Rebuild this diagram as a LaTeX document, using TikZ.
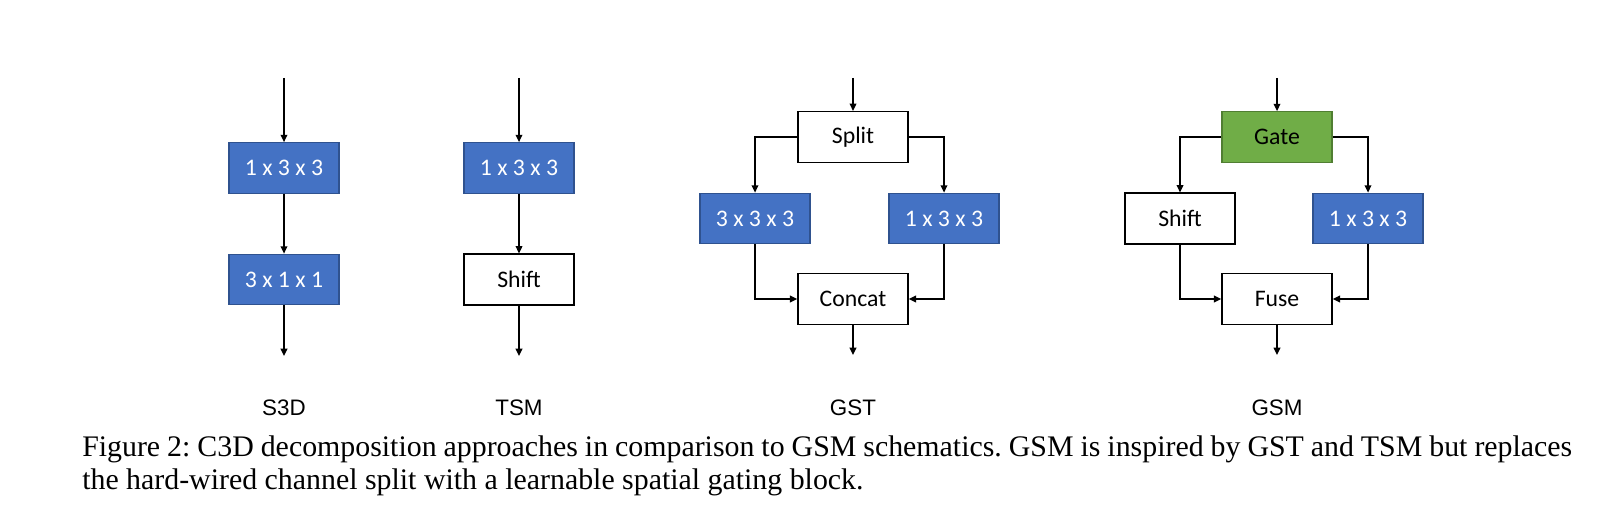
\documentclass[tikz,border=0pt]{standalone}
\usepackage{fontspec}
\setmainfont{Liberation Serif}
\newfontfamily\boxfont{Carlito}
\newfontfamily\labfont{Liberation Sans}
\usetikzlibrary{arrows.meta}
\definecolor{convblue}{HTML}{4472C4}
\definecolor{convborder}{HTML}{2F528F}
\definecolor{gategreen}{HTML}{70AD47}
\definecolor{gateborder}{HTML}{507E32}
\frenchspacing
\begin{document}
\begin{tikzpicture}[x=0.75pt,y=-0.75pt,
  blk/.style={draw, line width=1.1pt, minimum width=82.5pt, minimum height=38pt, inner sep=0pt,
    font=\boxfont\fontsize{17.8}{20}\selectfont},
  conv/.style={blk, fill=convblue, draw=convborder, line width=0.8pt, text=white},
  plain/.style={blk, fill=white, draw=black},
  gate/.style={blk, fill=gategreen, draw=gateborder, line width=0.8pt, text=black},
  flow/.style={line width=1.1pt, -{Triangle[length=5.5pt,width=5pt]}},
  lab/.style={font=\labfont\fontsize{16.8}{19}\selectfont},
  captext/.style={font=\fontsize{22.4}{26}\selectfont, inner sep=0pt, anchor=base west}]
\useasboundingbox (0,0) rectangle (1616,528);
% S3D
\coordinate (s3in) at (284,78);
\node[conv] (s3a) at (284,168) {1 x 3 x 3};
\node[conv] (s3b) at (284,279.5) {3 x 1 x 1};
\coordinate (s3out) at (284,356);
\draw[flow] (s3in) -- (s3a);
\draw[flow] (s3a) -- (s3b);
\draw[flow] (s3b) -- (s3out);
\node[lab] (s3l) at (284,408) {S3D};
% TSM
\coordinate (tsin) at (519,78);
\node[conv] (tsa) at (519,168) {1 x 3 x 3};
\node[plain] (tsb) at (519,279.5) {Shift};
\coordinate (tsout) at (519,356);
\draw[flow] (tsin) -- (tsa);
\draw[flow] (tsa) -- (tsb);
\draw[flow] (tsb) -- (tsout);
\node[lab] (tsl) at (519,408) {TSM};
% GST
\coordinate (gtin) at (853,78);
\node[plain] (gtsplit) at (853,137) {Split};
\node[conv] (gtl) at (755,218.5) {3 x 3 x 3};
\node[conv] (gtr) at (944,218.5) {1 x 3 x 3};
\node[plain] (gtcat) at (853,299) {Concat};
\coordinate (gtout) at (853,355);
\draw[flow] (gtin) -- (gtsplit);
\draw[flow] (gtsplit.west) -| (gtl.north);
\draw[flow] (gtsplit.east) -| (gtr.north);
\draw[flow] (gtl.south) |- (gtcat.west);
\draw[flow] (gtr.south) |- (gtcat.east);
\draw[flow] (gtcat) -- (gtout);
\node[lab] (gtlab) at (853,408) {GST};
% GSM
\coordinate (gmin) at (1277,78);
\node[gate] (gmgate) at (1277,137) {Gate};
\node[plain] (gml) at (1180,218.5) {Shift};
\node[conv] (gmr) at (1368,218.5) {1 x 3 x 3};
\node[plain] (gmfuse) at (1277,299) {Fuse};
\coordinate (gmout) at (1277,355);
\draw[flow] (gmin) -- (gmgate);
\draw[flow] (gmgate.west) -| (gml.north);
\draw[flow] (gmgate.east) -| (gmr.north);
\draw[flow] (gml.south) |- (gmfuse.west);
\draw[flow] (gmr.south) |- (gmfuse.east);
\draw[flow] (gmfuse) -- (gmout);
\node[lab] (gmlab) at (1277,408) {GSM};
% caption
\node[captext] (cap1) at (82,456) {\makebox[1117.5pt][s]{Figure 2: C3D decomposition approaches in comparison to GSM schematics. GSM is inspired by GST and TSM but replaces}};
\node[captext] (cap2) at (82,489) {the hard-wired channel split with a learnable spatial gating block.};
\end{tikzpicture}
\end{document}
